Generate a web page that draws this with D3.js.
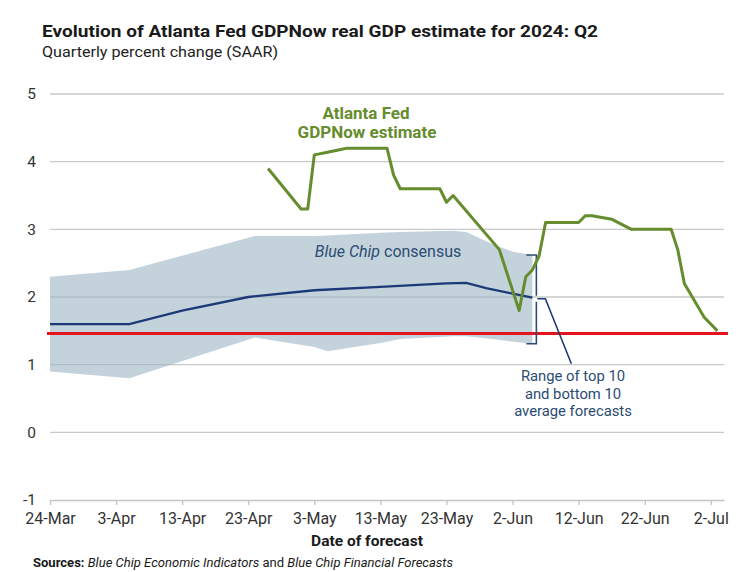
<!DOCTYPE html>
<html>
<head>
<meta charset="utf-8">
<script src="https://cdn.jsdelivr.net/npm/d3@7"></script>
<style>
  html, body { margin: 0; padding: 0; background: #fff; }
  svg { display: block; font-family: Roboto, "Open Sans", sans-serif; }
</style>
</head>
<body>
<svg id="chart" width="752" height="572"></svg>
<script>
// ---------- DATA ----------
const gdpNowDates = ["2024-04-26","2024-05-01","2024-05-02","2024-05-03","2024-05-05","2024-05-07","2024-05-08",
  "2024-05-14","2024-05-15","2024-05-16","2024-05-22","2024-05-23","2024-05-24","2024-05-31","2024-06-03",
  "2024-06-04","2024-06-05","2024-06-06","2024-06-07","2024-06-12","2024-06-13","2024-06-14","2024-06-17",
  "2024-06-18","2024-06-20","2024-06-26","2024-06-27","2024-06-28","2024-07-01","2024-07-02","2024-07-03"];
const gdpNowValues = [3.9,3.3,3.3,4.1,4.14,4.18,4.2,
  4.2,3.8,3.6,3.6,3.4,3.5,2.7,1.8,
  2.3,2.4,2.6,3.1,3.1,3.2,3.2,3.15,
  3.1,3.0,3.0,2.7,2.2,1.7,1.6,1.5];

const consensusDates = ["2024-03-24","2024-04-05","2024-04-13","2024-04-23","2024-05-03","2024-05-13","2024-05-23",
  "2024-05-26","2024-05-29","2024-06-02","2024-06-05"];
const consensusValues = [1.6,1.6,1.8,2.0,2.1,2.15,2.2,2.21,2.13,2.05,1.99];

const bandDates = ["2024-03-24","2024-04-05","2024-04-24","2024-05-03","2024-05-05","2024-05-13","2024-05-16",
  "2024-05-24","2024-05-26","2024-05-30","2024-06-02","2024-06-05"];
const bandUpper = [2.3,2.4,2.9,2.9,2.91,2.95,2.96,2.98,2.96,2.78,2.67,2.62];
const bandLower = [0.9,0.8,1.4,1.26,1.2,1.32,1.38,1.42,1.42,1.38,1.34,1.31];

const referenceValue = 1.46;

const xTickDates = ["2024-03-24","2024-04-03","2024-04-13","2024-04-23","2024-05-03","2024-05-13",
  "2024-05-23","2024-06-02","2024-06-12","2024-06-22","2024-07-02"];
const yTicks = [-1,0,1,2,3,4,5];

const titleText = "Evolution of Atlanta Fed GDPNow real GDP estimate for 2024: Q2";
const subtitleText = "Quarterly percent change (SAAR)";
const xAxisTitle = "Date of forecast";

// ---------- SETUP ----------
const parse = d3.utcParse("%Y-%m-%d");
const svg = d3.select("#chart");

const x = d3.scaleUtc()
  .domain([parse("2024-03-24"), parse("2024-07-04")])
  .range([50, 724]);
const y = d3.scaleLinear().domain([-1, 5]).range([500, 94]);

const green = "#658c2d";
const navy = "#1d3a78";
const textBlue = "#2b4c72";

// gridlines
svg.append("g").selectAll("line").data(yTicks.filter(v => v !== -1)).join("line")
  .attr("x1", x.range()[0]).attr("x2", x.range()[1])
  .attr("y1", d => y(d)).attr("y2", d => y(d))
  .attr("stroke", "#c9c9c9").attr("stroke-width", 1.4);

// band
const band = bandDates.map((d, i) => ({date: parse(d), lo: bandLower[i], hi: bandUpper[i]}));
svg.append("path").datum(band)
  .attr("d", d3.area().x(d => x(d.date)).y0(d => y(d.lo)).y1(d => y(d.hi)))
  .attr("fill", "#9cb4c4").attr("fill-opacity", 0.6);

// y tick labels
svg.append("g").selectAll("text").data(yTicks).join("text")
  .attr("x", 36).attr("y", d => y(d)).attr("dy", "0.35em")
  .attr("text-anchor", "end").attr("font-size", 15.5).attr("fill", "#333")
  .text(d => d);

// x axis
const xAxis = d3.axisBottom(x)
  .tickValues(xTickDates.map(parse))
  .tickFormat(d3.utcFormat("%-d-%b"))
  .tickSize(5).tickPadding(8).tickSizeOuter(0);
const gx = svg.append("g").attr("transform", `translate(0,${y(-1)})`).call(xAxis);
gx.select(".domain").attr("stroke", "#c4c4c4").attr("stroke-width", 1.6);
gx.selectAll(".tick line").attr("stroke", "#c4c4c4").attr("stroke-width", 1.4);
gx.selectAll(".tick text").attr("font-size", 16).attr("fill", "#333")
  .attr("font-family", "Roboto, sans-serif");

// red reference line
svg.append("line")
  .attr("x1", x.range()[0] - 3).attr("x2", x.range()[1] + 4)
  .attr("y1", y(referenceValue)).attr("y2", y(referenceValue))
  .attr("stroke", "#e3141c").attr("stroke-width", 3);

// consensus line
const cons = consensusDates.map((d, i) => ({date: parse(d), v: consensusValues[i]}));
svg.append("path").datum(cons)
  .attr("d", d3.line().x(d => x(d.date)).y(d => y(d.v)))
  .attr("fill", "none").attr("stroke", navy).attr("stroke-width", 2.3);

// bracket for range
const lastBand = band[band.length - 1];
const bx = x(lastBand.date) + 4;
const byTop = y(lastBand.hi), byBot = y(lastBand.lo);
const lastCons = cons[cons.length - 1];
const byMid = y(lastCons.v) + 1;
svg.append("path")
  .attr("d", `M${bx - 10},${byTop} L${bx},${byTop} L${bx},${byMid - 3} M${bx},${byMid + 3} L${bx},${byBot} L${bx - 10},${byBot}`)
  .attr("fill", "none").attr("stroke", textBlue).attr("stroke-width", 1.6);
// leader line
svg.append("path")
  .attr("d", `M${bx + 1},${byMid} L${bx + 9},${byMid} L${bx + 35},${byMid + 65}`)
  .attr("fill", "none").attr("stroke", navy).attr("stroke-width", 1.6);

// GDPNow line
const gdp = gdpNowDates.map((d, i) => ({date: parse(d), v: gdpNowValues[i]}));
svg.append("path").datum(gdp)
  .attr("d", d3.line().x(d => x(d.date)).y(d => y(d.v)))
  .attr("fill", "none").attr("stroke", green).attr("stroke-width", 3)
  .attr("stroke-linejoin", "round");

// annotations
const gLab = svg.append("g").attr("fill", green).attr("font-weight", 700)
  .attr("font-size", 17).attr("text-anchor", "middle");
gLab.append("text").attr("x", 366).attr("y", 119).text("Atlanta Fed");
gLab.append("text").attr("x", 367).attr("y", 138).text("GDPNow estimate");

const bc = svg.append("text").attr("x", 388).attr("y", 257).attr("text-anchor", "middle")
  .attr("font-size", 16).attr("fill", textBlue);
bc.append("tspan").attr("font-style", "italic").text("Blue Chip");
bc.append("tspan").text(" consensus");

const rLab = svg.append("g").attr("fill", textBlue).attr("font-size", 14.8).attr("text-anchor", "middle");
["Range of top 10", "and bottom 10", "average forecasts"].forEach((t, i) => {
  rLab.append("text").attr("x", 573).attr("y", 381 + i * 17.5).text(t);
});

// titles
svg.append("text").attr("x", 42).attr("y", 37).attr("font-size", 17).attr("font-weight", 700)
  .attr("fill", "#1a1a1a").attr("textLength", 556).attr("lengthAdjust", "spacingAndGlyphs").text(titleText);
svg.append("text").attr("x", 42).attr("y", 57).attr("font-size", 15)
  .attr("fill", "#222").attr("textLength", 236).attr("lengthAdjust", "spacingAndGlyphs").text(subtitleText);

svg.append("text").attr("x", 367).attr("y", 546).attr("text-anchor", "middle")
  .attr("font-size", 15.5).attr("font-weight", 700).attr("fill", "#1a1a1a").text(xAxisTitle);

const src = svg.append("text").attr("x", 33).attr("y", 567).attr("font-size", 13).attr("fill", "#1a1a1a")
  .attr("textLength", 420).attr("lengthAdjust", "spacingAndGlyphs");
src.append("tspan").attr("font-weight", 700).text("Sources: ");
src.append("tspan").attr("font-style", "italic").text("Blue Chip Economic Indicators");
src.append("tspan").text(" and ");
src.append("tspan").attr("font-style", "italic").text("Blue Chip Financial Forecasts");
</script>
</body>
</html>
